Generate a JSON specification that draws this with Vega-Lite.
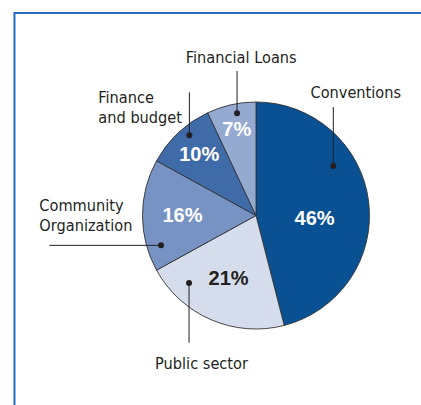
{
  "$schema": "https://vega.github.io/schema/vega-lite/v6.json",
  "width": 421,
  "height": 405,
  "padding": 0,
  "autosize": {"type": "none"},
  "background": "white",
  "config": {"view": {"stroke": null}},
  "datasets": {
    "slices": [
      {"category": "Conventions", "share": 0.46, "idx": 1},
      {"category": "Public sector", "share": 0.21, "idx": 2},
      {"category": "Community Organization", "share": 0.16, "idx": 3},
      {"category": "Finance and budget", "share": 0.10, "idx": 4},
      {"category": "Financial Loans", "share": 0.07, "idx": 5}
    ],
    "callouts": [
      {"name": "Conventions", "text": "Conventions", "tx": 0.879, "ty": 1.033, "lx1": 0.681, "ly1": 0.955, "lx2": 0.681, "ly2": 0.436},
      {"name": "Financial Loans", "text": "Financial Loans", "tx": -0.130, "ty": 1.341, "lx1": -0.167, "ly1": 1.273, "lx2": -0.167, "ly2": 0.900},
      {"name": "Finance and budget", "text": "Finance\nand budget", "tx": -1.389, "ty": 0.994, "lx1": -0.587, "ly1": 1.085, "lx2": -0.587, "ly2": 0.707},
      {"name": "Community Organization", "text": "Community\nOrganization", "tx": -1.909, "ty": 0.042, "lx1": -1.821, "ly1": -0.263, "lx2": -0.837, "ly2": -0.263},
      {"name": "Public sector", "text": "Public sector", "tx": -0.480, "ty": -1.355, "lx1": -0.590, "ly1": -1.121, "lx2": -0.590, "ly2": -0.595}
    ]
  },
  "layer": [
    {
      "data": {"values": [{}]},
      "mark": {"type": "rule", "color": "#2a6cbc", "strokeWidth": 2},
      "encoding": {
        "x": {"datum": -2.128, "type": "quantitative", "scale": {"domain": [-2.2555, 1.4537], "nice": false, "zero": false}, "axis": null},
        "x2": {"datum": 1.6},
        "y": {"datum": 1.784, "type": "quantitative", "scale": {"domain": [-1.6696, 1.8987], "nice": false, "zero": false}, "axis": null}
      }
    },
    {
      "data": {"values": [{}]},
      "mark": {"type": "rule", "color": "#1f6dc8", "strokeWidth": 2},
      "encoding": {
        "x": {"datum": -2.128, "type": "quantitative", "scale": {"domain": [-2.2555, 1.4537], "nice": false, "zero": false}, "axis": null},
        "y": {"datum": 1.792, "type": "quantitative", "scale": {"domain": [-1.6696, 1.8987], "nice": false, "zero": false}, "axis": null},
        "y2": {"datum": -1.8}
      }
    },
    {
      "data": {"name": "slices"},
      "mark": {"type": "arc", "outerRadius": 113.5, "stroke": "#333333", "strokeWidth": 0.9},
      "encoding": {
        "theta": {"field": "share", "type": "quantitative", "stack": true},
        "order": {"field": "idx", "type": "quantitative"},
        "color": {
          "field": "category", "type": "nominal", "legend": null,
          "scale": {
            "domain": ["Conventions", "Public sector", "Community Organization", "Finance and budget", "Financial Loans"],
            "range": ["#0a5194", "#d5dcec", "#7793c3", "#3f6ca9", "#95aad1"]
          }
        },
        "x": {"datum": 0, "type": "quantitative", "scale": {"domain": [-2.2555, 1.4537], "nice": false, "zero": false}, "axis": null},
        "y": {"datum": 0, "type": "quantitative", "scale": {"domain": [-1.6696, 1.8987], "nice": false, "zero": false}, "axis": null}
      }
    },
    {
      "data": {"name": "slices"},
      "mark": {"type": "text", "radius": 59, "dy": 11, "font": "Liberation Sans", "fontSize": 20, "fontWeight": "bold", "align": "center", "baseline": "middle", "color": "white"},
      "encoding": {
        "theta": {"field": "share", "type": "quantitative", "stack": true},
        "order": {"field": "idx", "type": "quantitative"},
        "detail": {"field": "category"},
        "text": {"condition": {"test": "datum.category === 'Conventions'", "field": "share", "format": ".0%"}, "value": ""},
        "x": {"datum": 0, "type": "quantitative", "scale": {"domain": [-2.2555, 1.4537], "nice": false, "zero": false}, "axis": null},
        "y": {"datum": 0, "type": "quantitative", "scale": {"domain": [-1.6696, 1.8987], "nice": false, "zero": false}, "axis": null}
      }
    },
    {
      "data": {"name": "slices"},
      "mark": {"type": "text", "radius": 69, "font": "Liberation Sans", "fontSize": 20, "fontWeight": "bold", "align": "center", "baseline": "middle", "color": "#231f20"},
      "encoding": {
        "theta": {"field": "share", "type": "quantitative", "stack": true},
        "order": {"field": "idx", "type": "quantitative"},
        "detail": {"field": "category"},
        "text": {"condition": {"test": "datum.category === 'Public sector'", "field": "share", "format": ".0%"}, "value": ""},
        "x": {"datum": 0, "type": "quantitative", "scale": {"domain": [-2.2555, 1.4537], "nice": false, "zero": false}, "axis": null},
        "y": {"datum": 0, "type": "quantitative", "scale": {"domain": [-1.6696, 1.8987], "nice": false, "zero": false}, "axis": null}
      }
    },
    {
      "data": {"name": "slices"},
      "mark": {"type": "text", "radius": 73.5, "font": "Liberation Sans", "fontSize": 20, "fontWeight": "bold", "align": "center", "baseline": "middle", "color": "white"},
      "encoding": {
        "theta": {"field": "share", "type": "quantitative", "stack": true},
        "order": {"field": "idx", "type": "quantitative"},
        "detail": {"field": "category"},
        "text": {"condition": {"test": "datum.category === 'Community Organization'", "field": "share", "format": ".0%"}, "value": ""},
        "x": {"datum": 0, "type": "quantitative", "scale": {"domain": [-2.2555, 1.4537], "nice": false, "zero": false}, "axis": null},
        "y": {"datum": 0, "type": "quantitative", "scale": {"domain": [-1.6696, 1.8987], "nice": false, "zero": false}, "axis": null}
      }
    },
    {
      "data": {"name": "slices"},
      "mark": {"type": "text", "radius": 83, "font": "Liberation Sans", "fontSize": 20, "fontWeight": "bold", "align": "center", "baseline": "middle", "color": "white"},
      "encoding": {
        "theta": {"field": "share", "type": "quantitative", "stack": true},
        "order": {"field": "idx", "type": "quantitative"},
        "detail": {"field": "category"},
        "text": {"condition": {"test": "datum.category === 'Finance and budget'", "field": "share", "format": ".0%"}, "value": ""},
        "x": {"datum": 0, "type": "quantitative", "scale": {"domain": [-2.2555, 1.4537], "nice": false, "zero": false}, "axis": null},
        "y": {"datum": 0, "type": "quantitative", "scale": {"domain": [-1.6696, 1.8987], "nice": false, "zero": false}, "axis": null}
      }
    },
    {
      "data": {"name": "slices"},
      "mark": {"type": "text", "radius": 88, "font": "Liberation Sans", "fontSize": 20, "fontWeight": "bold", "align": "center", "baseline": "middle", "color": "white"},
      "encoding": {
        "theta": {"field": "share", "type": "quantitative", "stack": true},
        "order": {"field": "idx", "type": "quantitative"},
        "detail": {"field": "category"},
        "text": {"condition": {"test": "datum.category === 'Financial Loans'", "field": "share", "format": ".0%"}, "value": ""},
        "x": {"datum": 0, "type": "quantitative", "scale": {"domain": [-2.2555, 1.4537], "nice": false, "zero": false}, "axis": null},
        "y": {"datum": 0, "type": "quantitative", "scale": {"domain": [-1.6696, 1.8987], "nice": false, "zero": false}, "axis": null}
      }
    },
    {
      "data": {"name": "callouts"},
      "mark": {"type": "rule", "color": "#231f20", "strokeWidth": 1},
      "encoding": {
        "x": {"field": "lx1", "type": "quantitative", "scale": {"domain": [-2.2555, 1.4537], "nice": false, "zero": false}, "axis": null},
        "x2": {"field": "lx2"},
        "y": {"field": "ly1", "type": "quantitative", "scale": {"domain": [-1.6696, 1.8987], "nice": false, "zero": false}, "axis": null},
        "y2": {"field": "ly2"}
      }
    },
    {
      "data": {"name": "callouts"},
      "mark": {"type": "point", "filled": true, "size": 36, "color": "#231f20", "opacity": 1},
      "encoding": {
        "x": {"field": "lx2", "type": "quantitative", "scale": {"domain": [-2.2555, 1.4537], "nice": false, "zero": false}, "axis": null},
        "y": {"field": "ly2", "type": "quantitative", "scale": {"domain": [-1.6696, 1.8987], "nice": false, "zero": false}, "axis": null}
      }
    },
    {
      "data": {"name": "callouts"},
      "transform": [{"filter": "datum.name !== 'Finance and budget' && datum.name !== 'Community Organization'"}],
      "mark": {"type": "text", "font": "DejaVu Sans Condensed", "fontSize": 16.2, "align": "center", "baseline": "alphabetic", "color": "#231f20", "lineBreak": "\n", "lineHeight": 20.5},
      "encoding": {
        "text": {"field": "text"},
        "x": {"field": "tx", "type": "quantitative", "scale": {"domain": [-2.2555, 1.4537], "nice": false, "zero": false}, "axis": null},
        "y": {"field": "ty", "type": "quantitative", "scale": {"domain": [-1.6696, 1.8987], "nice": false, "zero": false}, "axis": null}
      }
    },
    {
      "data": {"name": "callouts"},
      "transform": [{"filter": "datum.name === 'Finance and budget' || datum.name === 'Community Organization'"}],
      "mark": {"type": "text", "font": "DejaVu Sans Condensed", "fontSize": 16.2, "align": "left", "baseline": "alphabetic", "color": "#231f20", "lineBreak": "\n", "lineHeight": 20.5},
      "encoding": {
        "text": {"field": "text"},
        "x": {"field": "tx", "type": "quantitative", "scale": {"domain": [-2.2555, 1.4537], "nice": false, "zero": false}, "axis": null},
        "y": {"field": "ty", "type": "quantitative", "scale": {"domain": [-1.6696, 1.8987], "nice": false, "zero": false}, "axis": null}
      }
    }
  ]
}
